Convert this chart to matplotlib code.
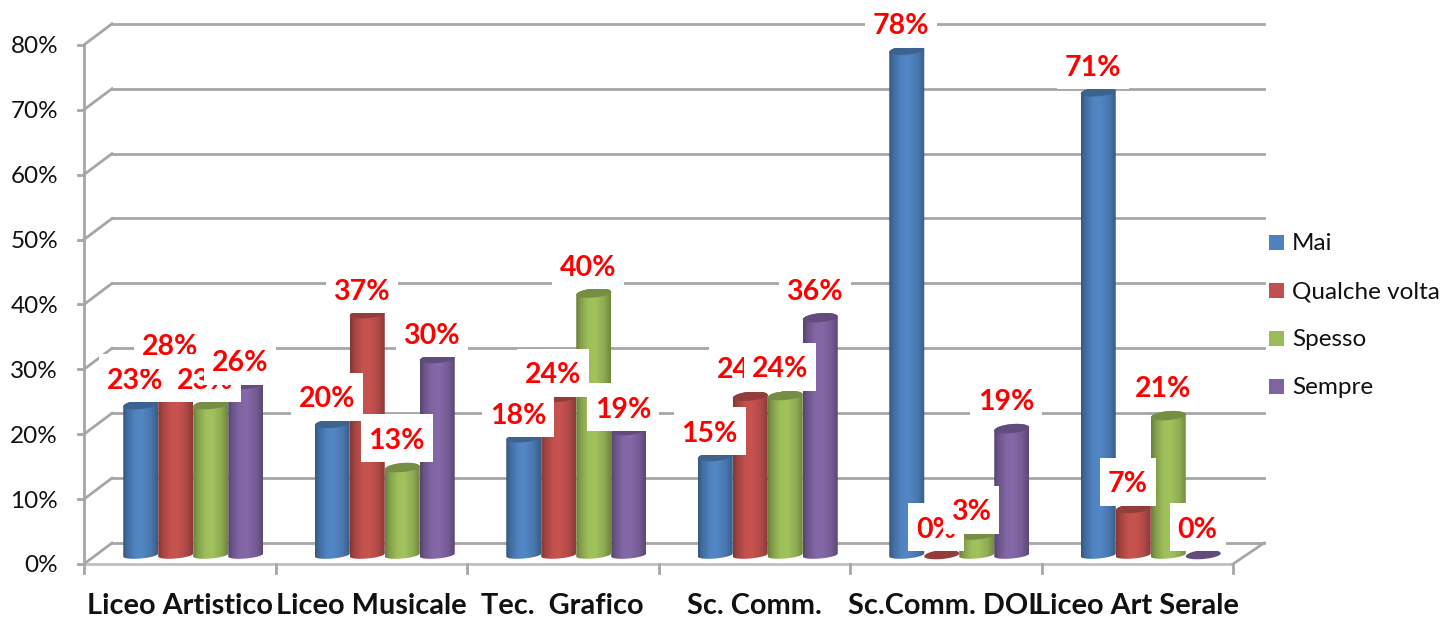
import numpy as np
import matplotlib
matplotlib.use("Agg")
import matplotlib.pyplot as plt
from matplotlib.colors import to_rgb
from matplotlib.patches import PathPatch, Rectangle
from matplotlib.path import Path

plt.rcParams["font.family"] = ["Lato", "DejaVu Sans"]

categories = ["Liceo Artistico", "Liceo Musicale", "Tec.  Grafico", "Sc. Comm.", "Sc.Comm. DOL", "Liceo Art Serale"]
series = ["Mai", "Qualche volta", "Spesso", "Sempre"]
mai = [23.1, 20.2, 18.0, 15.1, 77.7, 71.3]
qualche = [28.2, 37.1, 24.2, 24.4, 0.0, 7.1]
spesso = [23.1, 13.4, 40.3, 24.5, 3.0, 21.4]
sempre = [26.2, 30.2, 19.1, 36.5, 19.4, 0.0]
y_ticks = [0, 10, 20, 30, 40, 50, 60, 70, 80]
colors = ["#4F81BD", "#C0504D", "#9BBB59", "#8064A2"]

# how far each label sits above its bar top, pixels
label_lift = [
    [27, 27, 25, 26, 27, 27],
    [27, 25, 25, 29, 28, 27],
    [27, 30, 28, 29, 26, 30],
    [24, 26, 24, 29, 30, 28],
]

# ── Layout ────────────────────────────────────────────────────────────────────
W, H = 1443, 617
PX_X = 191.5     # pixels per category
PX_Y = 6.49      # pixels per percent
X0, Y0 = 84, 564

def dx(px): return px / PX_X
def dy(px): return px / PX_Y

fig = plt.figure(figsize=(W / 100, H / 100), dpi=100)
ax = fig.add_axes([0, 0, 1, 1])
ax.axis("off")

depth_x, depth_y = dx(28), dy(21)
GRID = "#A6A6A6"
LW = 2.0

# ── Walls and axes ────────────────────────────────────────────────────────────
for v in y_ticks:
    ax.plot([0, depth_x], [v, v + depth_y], color=GRID, lw=LW, zorder=1)
    ax.plot([depth_x, 6 + dx(31)], [v + depth_y, v + depth_y], color=GRID, lw=LW, zorder=1)
    ax.plot([-dx(6), 0], [v, v], color=GRID, lw=LW, zorder=1)
    ax.text(-dx(26), v, f"{v}%", ha="right", va="center_baseline", fontsize=17.5, color="#111111")
ax.plot([0, 0], [0, 80], color=GRID, lw=LW, zorder=1)
ax.plot([0, 6], [0, 0], color="#BFBFBF", lw=LW, zorder=1)
ax.plot([6, 6 + dx(31)], [0, depth_y], color=GRID, lw=LW, zorder=1)
for i in range(7):
    ax.plot([i, i], [0, -dy(9)], color=GRID, lw=LW, zorder=1)
for i, c in enumerate(categories):
    ax.text(i + 0.5, -dy(40), c, ha="center", va="center_baseline", fontsize=20.8,
            fontweight="bold", color="#111111")

# ── Cylinders ─────────────────────────────────────────────────────────────────
BAR_W = dx(35)
BASE_Y = dy(9)   # bar floor sits 9 px above the front axis
shade_x = np.array([0, 0.12, 0.35, 0.55, 0.8, 1.0])
shade_k = np.array([0.68, 0.84, 1.02, 1.04, 0.92, 0.72])
theta = np.linspace(0, np.pi, 40)

def arc(xc, yc, half, semi):
    # half an ellipse, tilted up to the right; semi < 0 gives the lower half
    t = np.cos(theta)
    return xc + half * t, yc + dy(semi) * np.sin(theta) + dy(1.5) * t

def cylinder(xc, value, color, z):
    half = BAR_W / 2
    y_top = BASE_Y + value
    rgb = np.array(to_rgb(color))
    if value > 0:
        k = np.interp(np.linspace(0, 1, 64), shade_x, shade_k)
        img = np.clip(k[None, :, None] * rgb[None, None, :], 0, 1)
        im = ax.imshow(img, extent=[xc - half, xc + half, BASE_Y - dy(8), y_top + dy(8)],
                       aspect="auto", origin="lower", zorder=z, interpolation="bilinear")
        bx, by = arc(xc, BASE_Y, half, -3.5)
        tx, ty = arc(xc, y_top, half, 5)
        verts = np.column_stack([np.r_[bx[::-1], tx], np.r_[by[::-1], ty]])
        clip = PathPatch(Path(np.vstack([verts, verts[0]])), transform=ax.transData,
                         facecolor="none", edgecolor="none")
        ax.add_patch(clip)
        im.set_clip_path(clip)
    # darker lid
    tx, ty = arc(xc, y_top, half, 5)
    ux, uy = arc(xc, y_top, half, -4)
    ax.fill(np.r_[tx, ux[::-1]], np.r_[ty, uy[::-1]], color=rgb * 0.76, zorder=z + 0.1, lw=0)

all_values = [mai, qualche, spesso, sempre]
for j, values in enumerate(all_values):
    for i, v in enumerate(values):
        xc = i + 0.5 + (j - 1.5) * BAR_W + dx(13.5)
        cylinder(xc, v, colors[j], 3 + j * 0.2)

# ── Value labels, later ones paint over earlier ones ──────────────────────────
z = 10
for j, values in enumerate(all_values):
    for i, v in enumerate(values):
        xc = i + 0.5 + (j - 1.5) * BAR_W + dx(13.5) - dx(5.5)
        yc = BASE_Y + v + dy(label_lift[j][i])
        txt = f"{v:.0f}%"
        bw = dx(72 if len(txt) == 3 else 56)
        bh = dy(48)
        ax.add_patch(Rectangle((xc - bw / 2, yc - bh / 2), bw, bh, facecolor="white",
                               edgecolor="none", zorder=z))
        ax.text(xc, yc, txt, ha="center", va="center_baseline", fontsize=20.5,
                fontweight="bold", color="#FF0000", zorder=z + 0.1)
        z += 1

# ── Legend ────────────────────────────────────────────────────────────────────
for name, color, py in zip(series, colors, [242, 290, 338, 386]):
    lx = dx(1269 - X0)
    ly = (Y0 - py) / PX_Y
    ax.add_patch(Rectangle((lx, ly - dy(7.5)), dx(15), dy(15), facecolor=color,
                           edgecolor="none", zorder=50))
    ax.text(dx(1292 - X0), ly, name, ha="left", va="center_baseline", fontsize=17.5,
            color="#111111", zorder=50)

ax.set_xlim(-X0 / PX_X, (W - X0) / PX_X)
ax.set_ylim((Y0 - H) / PX_Y, Y0 / PX_Y)
fig.savefig("out.png", dpi=100, facecolor="white")
